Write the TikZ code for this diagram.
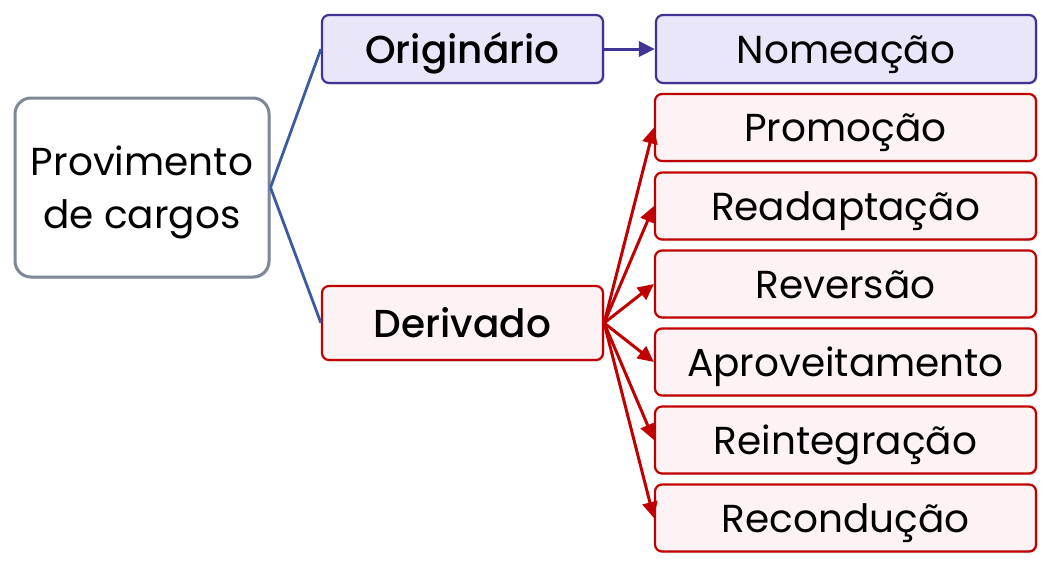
\documentclass[tikz,border=0pt]{standalone}
\usepackage{fontspec}
\setmainfont{Poppins}
\newfontfamily\medfont{Poppins Medium}
\usetikzlibrary{arrows.meta,shadows}
\definecolor{purpfill}{HTML}{E8E6F8}
\definecolor{purpline}{HTML}{3F3394}
\definecolor{redfill}{HTML}{FDF3F4}
\definecolor{redline}{HTML}{C00000}
\definecolor{blueline}{HTML}{3A5BA0}
\definecolor{grayline}{HTML}{7F8896}
\tikzset{
  box/.style={rounded corners=7pt, line width=2.2pt, inner sep=0pt, align=center,
    font=\fontsize{39}{44}\selectfont, text height=28pt, text depth=0pt,
    drop shadow={shadow xshift=1.5pt, shadow yshift=-1.5pt, opacity=0.25}},
  purpbox/.style={box, draw=purpline, fill=purpfill},
  redbox/.style={box, draw=redline, fill=redfill},
  rootbox/.style={box, draw=grayline, fill=white, rounded corners=16pt, line width=3pt,
    font=\fontsize{39}{53}\selectfont, text height=81pt, text depth=0pt},
  boldtext/.style={font=\fontsize{39}{44}\selectfont\medfont},
  blueconn/.style={draw=blueline, line width=2.8pt},
  redarrow/.style={draw=redline, line width=3pt, -{Triangle[length=16pt,width=15pt]}},
  purparrow/.style={draw=purpline, line width=3pt, -{Triangle[length=16pt,width=15pt]}},
}
\begin{document}
\begin{tikzpicture}[x=1pt,y=-1pt]
\useasboundingbox (0,0) rectangle (1055,568);
\node[rootbox, minimum width=254pt, minimum height=179pt] (root) at (142,187.5) {Provimento\\de cargos};
\node[purpbox, boldtext, minimum width=281pt, minimum height=68pt] (orig) at (462.5,49) {Originário};
\node[purpbox, minimum width=380pt, minimum height=68pt] (nome) at (846,49) {Nomeação};
\node[redbox, boldtext, minimum width=281pt, minimum height=74pt] (deriv) at (462.5,323) {Derivado};
\node[redbox, minimum width=381pt, minimum height=67pt] (prom) at (845.5,127.5) {Promoção};
\node[redbox, minimum width=381pt, minimum height=67pt] (read) at (845.5,206) {Readaptação};
\node[redbox, minimum width=381pt, minimum height=67pt] (rever) at (845.5,284) {Reversão};
\node[redbox, minimum width=381pt, minimum height=67pt] (aprov) at (845.5,362) {Aproveitamento};
\node[redbox, minimum width=381pt, minimum height=67pt] (reint) at (845.5,440) {Reintegração};
\node[redbox, minimum width=381pt, minimum height=67pt] (recon) at (845.5,518) {Recondução};
\draw[blueconn] (root.east) -- (orig.west);
\draw[blueconn] (root.east) -- (deriv.west);
\draw[purparrow] (orig.east) -- (nome.west);
\foreach \t in {prom,read,rever,aprov,reint,recon}
  \draw[redarrow] (deriv.east) -- (\t.west);
\end{tikzpicture}
\end{document}
